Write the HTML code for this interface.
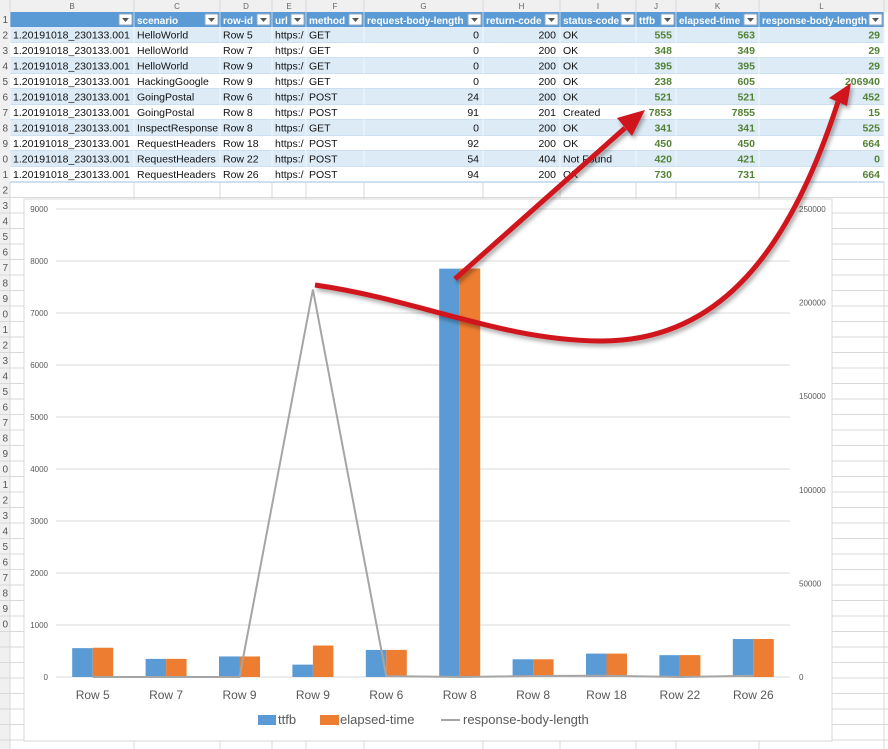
<!DOCTYPE html>
<html><head><meta charset="utf-8">
<style>
html,body{margin:0;padding:0;background:#fff;width:888px;height:749px;overflow:hidden}
svg{display:block;font-family:"Liberation Sans",sans-serif}
</style></head>
<body>
<svg id="s" width="888" height="749" viewBox="0 0 888 749" xmlns="http://www.w3.org/2000/svg">
<g id="sheet"></g>
<g id="chart"></g>
<g id="arrows">
  <defs>
    <filter id="sh" x="-10%" y="-10%" width="130%" height="130%"><feDropShadow dx="2" dy="3" stdDeviation="2" flood-color="#000" flood-opacity="0.35"/></filter>
  </defs>
  <g filter="url(#sh)">
    <line x1="455" y1="279" x2="625" y2="128" stroke="#d0121b" stroke-width="5"/>
    <polygon points="645,110 617,118 632,136" fill="#d0121b"/>
  </g>
  <g filter="url(#sh)">
    <path d="M315,285 C420,300 500,340 600,341 C720,342 790,250 838,102" fill="none" stroke="#d0121b" stroke-width="5"/>
    <polygon points="851,83 829,98 847,106" fill="#d0121b"/>
  </g>
</g>
</svg>
<script>
const NS='http://www.w3.org/2000/svg';
function mk(p,t,a,txt){const e=document.createElementNS(NS,t);for(const k in a)e.setAttribute(k,a[k]);if(txt!==undefined)e.textContent=txt;p.appendChild(e);return e;}
const sheet=document.getElementById('sheet');
const colX=[10,134,220,272,306,364,483,560,636,676,759,884];
const colLetters=['B','C','D','E','F','G','H','I','J','K','L'];
const headers=['','scenario','row-id','url','method','request-body-length','return-code','status-code','ttfb','elapsed-time','response-body-length'];
const rows=[
['1.20191018_230133.001','HelloWorld','Row 5','https:/','GET','0','200','OK','555','563','29'],
['1.20191018_230133.001','HelloWorld','Row 7','https:/','GET','0','200','OK','348','349','29'],
['1.20191018_230133.001','HelloWorld','Row 9','https:/','GET','0','200','OK','395','395','29'],
['1.20191018_230133.001','HackingGoogle','Row 9','https:/','GET','0','200','OK','238','605','206940'],
['1.20191018_230133.001','GoingPostal','Row 6','https:/','POST','24','200','OK','521','521','452'],
['1.20191018_230133.001','GoingPostal','Row 8','https:/','POST','91','201','Created','7853','7855','15'],
['1.20191018_230133.001','InspectResponse','Row 8','https:/','GET','0','200','OK','341','341','525'],
['1.20191018_230133.001','RequestHeaders','Row 18','https:/','POST','92','200','OK','450','450','664'],
['1.20191018_230133.001','RequestHeaders','Row 22','https:/','POST','54','404','Not Found','420','421','0'],
['1.20191018_230133.001','RequestHeaders','Row 26','https:/','POST','94','200','OK','730','731','664']];
const RH=15.5, top0=27;
// background grid
mk(sheet,'rect',{x:0,y:0,width:888,height:12,fill:'#f0f0f0'});
mk(sheet,'rect',{x:0,y:0,width:10,height:749,fill:'#f0f0f0'});
for(let i=0;i<colLetters.length;i++){
 const t=mk(sheet,'text',{x:(colX[i]+colX[i+1])/2,y:9,'font-size':8,fill:'#666','text-anchor':'middle'},colLetters[i]);
 
}
for(let y=top0+RH*11;y<749;y+=RH){mk(sheet,'line',{x1:0,x2:888,y1:y,y2:y,stroke:'#d9d9d9','stroke-width':1});}
for(const x of colX){mk(sheet,'line',{x1:x,x2:x,y1:0,y2:749,stroke:'#d9d9d9','stroke-width':1});}
for(let r=0;r<40;r++){const y=12+RH*r+11;mk(sheet,'text',{x:8,y:y,'font-size':10,fill:'#555','text-anchor':'end'},String((r+1)%10));}
// header row
mk(sheet,'rect',{x:10,y:12,width:874,height:15,fill:'#5b9bd5'});
for(let i=0;i<headers.length;i++){
 const x0=colX[i],x1=colX[i+1];
 const t=mk(sheet,'text',{x:x0+3,y:24,'font-size':10,'font-weight':'bold',fill:'#fff'},headers[i]);
 
 const b=mk(sheet,'rect',{x:x1-15,y:14,width:13,height:11,fill:'#fff',stroke:'#9ab',rx:1});
 
 mk(sheet,'polygon',{points:`${x1-12},18 ${x1-5},18 ${x1-8.5},22`,fill:'#555'});
}
const rightCols=[5,6,8,9,10];
rows.forEach((r,ri)=>{
 const y=top0+RH*ri;
 mk(sheet,'rect',{x:10,y:y,width:874,height:RH,fill:ri%2===0?'#ddebf7':'#fff'});
 mk(sheet,'line',{x1:10,x2:884,y1:y+RH,y2:y+RH,stroke:'#9bc2e6','stroke-width':1});
 r.forEach((v,ci)=>{
  const green=ci>=8, right=rightCols.includes(ci);
  const t=mk(sheet,'text',{x:right?colX[ci+1]-4:colX[ci]+3,y:y+11.5,'font-size':10.5,fill:green?'#548235':'#111','font-weight':green?'bold':'normal','text-anchor':right?'end':'start'},v);
  
 });
});
for(const x of colX){mk(sheet,'line',{x1:x,x2:x,y1:12,y2:top0+RH*10,stroke:'#fff','stroke-width':1,'stroke-opacity':0.6});}

// ===== chart data =====
const categories=['Row 5','Row 7','Row 9','Row 9','Row 6','Row 8','Row 8','Row 18','Row 22','Row 26'];
const ttfb=[555,348,395,238,521,7853,341,450,420,730];
const elapsed=[563,349,395,605,521,7855,341,450,421,731];
const respLen=[29,29,29,206940,452,15,525,664,0,664];
const leftTicks=[0,1000,2000,3000,4000,5000,6000,7000,8000,9000];
const rightTicks=[0,50000,100000,150000,200000,250000];
const ch=document.getElementById('chart');
const PX0=56,PX1=790,PY0=677,PY1=209;
const yL=v=>PY0-(v/9000)*(PY0-PY1);
const yR=v=>PY0-(v/250000)*(PY0-PY1);
const band=(PX1-PX0)/categories.length;
const xC=i=>PX0+band*(i+0.5);
mk(ch,'rect',{x:24,y:199,width:808,height:542,fill:'#fff',stroke:'#d9d9d9'});
leftTicks.forEach(v=>{
 const g=mk(ch,'line',{x1:PX0,x2:PX1,y1:yL(v),y2:yL(v),stroke:'#d9d9d9'});
 
 const t=mk(ch,'text',{x:48,y:yL(v)+3,'font-size':8,fill:'#595959','text-anchor':'end'},v);
 
});
rightTicks.forEach(v=>{
 const t=mk(ch,'text',{x:799,y:yR(v)+3,'font-size':8,fill:'#595959'},v);
 
});
const BW=20.5;
categories.forEach((c,i)=>{
 const b1=mk(ch,'rect',{x:xC(i)-BW,y:yL(ttfb[i]),width:BW,height:PY0-yL(ttfb[i]),fill:'#5b9bd5'});
 
 const b2=mk(ch,'rect',{x:xC(i),y:yL(elapsed[i]),width:BW,height:PY0-yL(elapsed[i]),fill:'#ed7d31'});
 
 const t=mk(ch,'text',{x:xC(i),y:699,'font-size':12,fill:'#595959','text-anchor':'middle'},c);
 
});
const ln=mk(ch,'polyline',{points:respLen.map((v,i)=>xC(i)+','+yR(v)).join(' '),fill:'none',stroke:'#a5a5a5','stroke-width':2});

// legend
const lg=mk(ch,'g',{});

let e=mk(lg,'rect',{x:258,y:715,width:18,height:10,fill:'#5b9bd5'});

e=mk(lg,'text',{x:278,y:724,'font-size':13,fill:'#595959'},'ttfb');

e=mk(lg,'rect',{x:320,y:715,width:19,height:10,fill:'#ed7d31'});

e=mk(lg,'text',{x:340,y:724,'font-size':13,fill:'#595959'},'elapsed-time');

e=mk(lg,'line',{x1:441,x2:460,y1:720,y2:720,stroke:'#a5a5a5','stroke-width':2});

e=mk(lg,'text',{x:463,y:724,'font-size':13,fill:'#595959'},'response-body-length');

</script>
</body></html>
